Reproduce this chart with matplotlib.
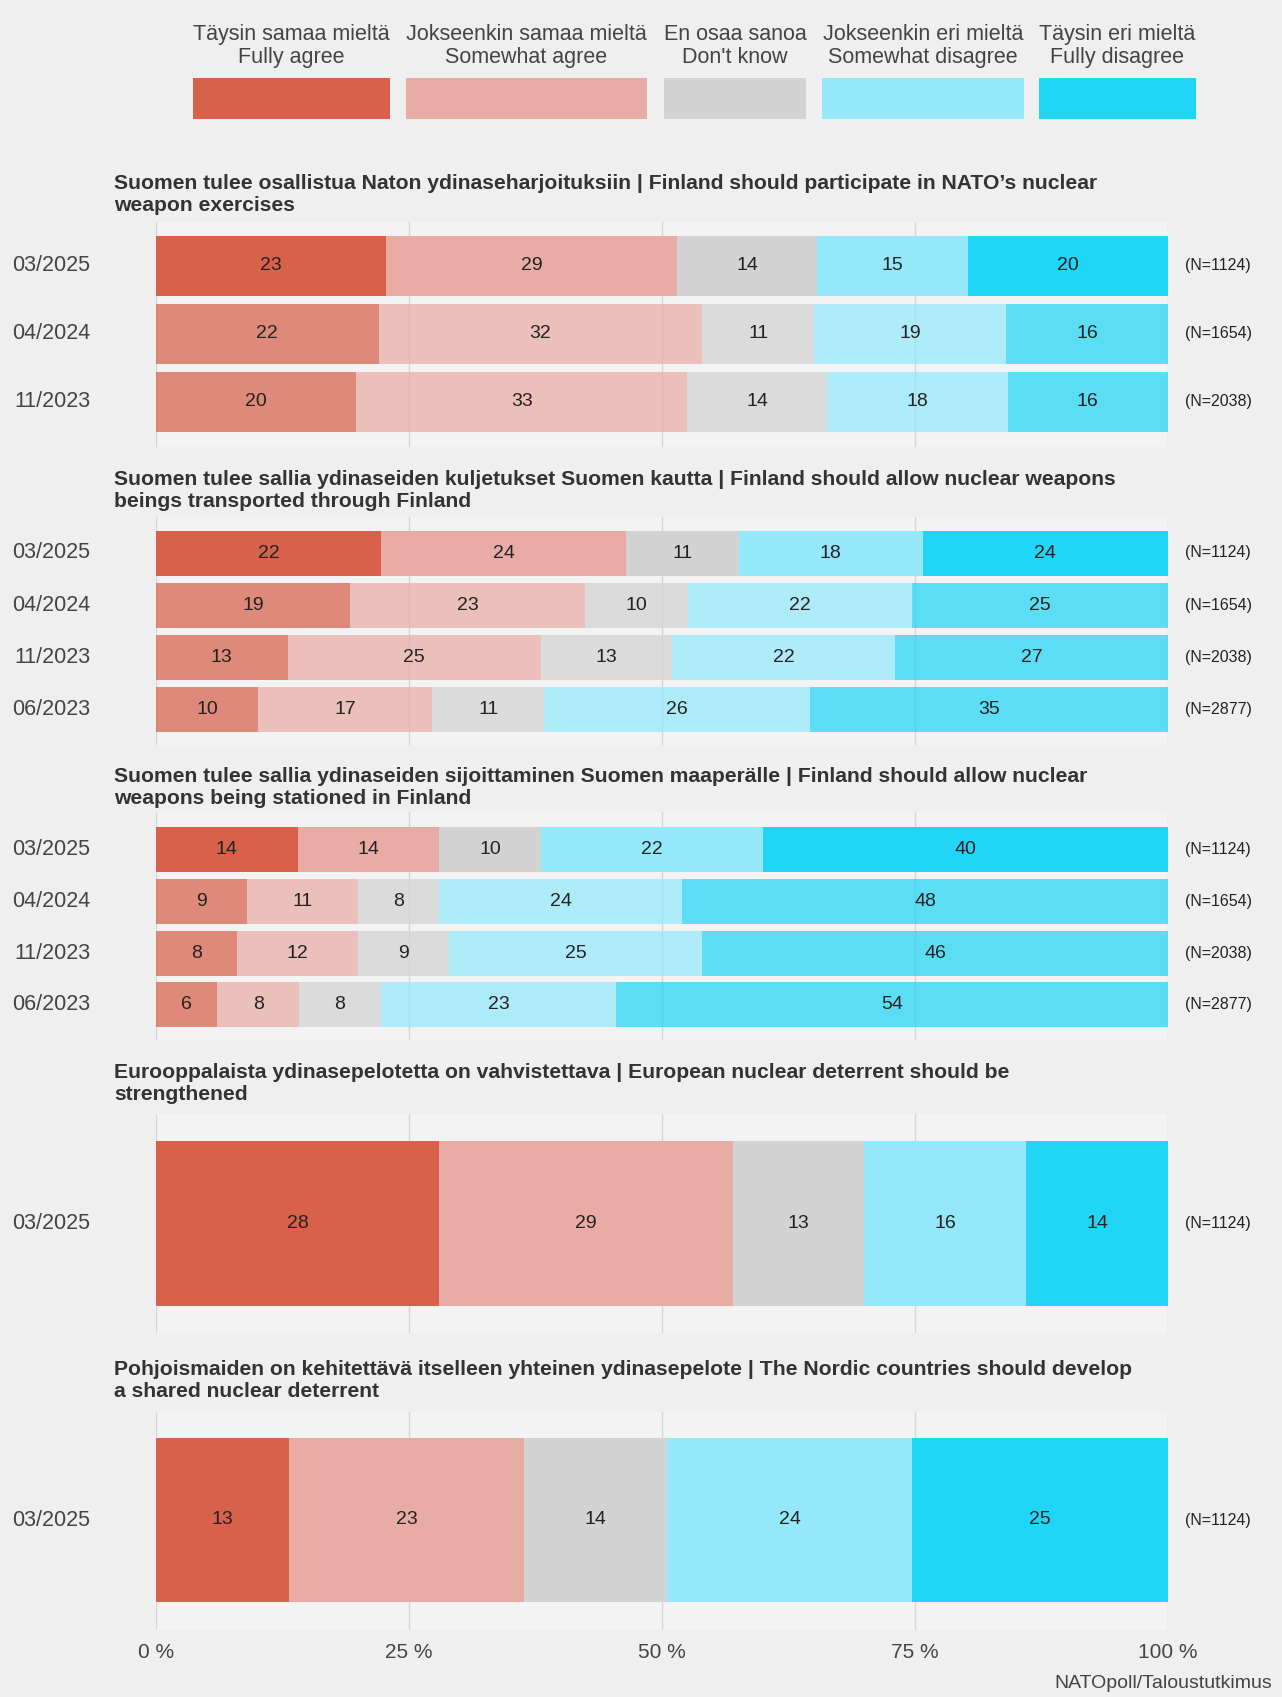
import numpy as np
import matplotlib.pyplot as plt

plt.rcParams['font.family'] = ['Liberation Sans', 'DejaVu Sans']

# Answer categories (Finnish / English)
categories = ['Täysin samaa mieltä\nFully agree',
              'Jokseenkin samaa mieltä\nSomewhat agree',
              'En osaa sanoa\nDon\'t know',
              'Jokseenkin eri mieltä\nSomewhat disagree',
              'Täysin eri mieltä\nFully disagree']
colors = ['#d8614c', '#e9aca4', '#d3d3d3', '#94e8fa', '#20d5f5']

titles = ['Suomen tulee osallistua Naton ydinaseharjoituksiin | Finland should participate in NATO\u2019s nuclear\nweapon exercises',
          'Suomen tulee sallia ydinaseiden kuljetukset Suomen kautta | Finland should allow nuclear weapons\nbeings transported through Finland',
          'Suomen tulee sallia ydinaseiden sijoittaminen Suomen maaperälle | Finland should allow nuclear\nweapons being stationed in Finland',
          'Eurooppalaista ydinasepelotetta on vahvistettava | European nuclear deterrent should be\nstrengthened',
          'Pohjoismaiden on kehitettävä itselleen yhteinen ydinasepelote | The Nordic countries should develop\na shared nuclear deterrent']

# survey rounds and sample sizes per panel
dates1 = ['03/2025', '04/2024', '11/2023']
dates2 = ['03/2025', '04/2024', '11/2023', '06/2023']
dates3 = ['03/2025', '04/2024', '11/2023', '06/2023']
dates4 = ['03/2025']
dates5 = ['03/2025']
n1 = [1124, 1654, 2038]
n2 = [1124, 1654, 2038, 2877]
n3 = [1124, 1654, 2038, 2877]
n4 = [1124]
n5 = [1124]

# percentages: rows = rounds, columns = categories
vals1 = [[23, 29, 14, 15, 20],
         [22, 32, 11, 19, 16],
         [20, 33, 14, 18, 16]]
vals2 = [[22, 24, 11, 18, 24],
         [19, 23, 10, 22, 25],
         [13, 25, 13, 22, 27],
         [10, 17, 11, 26, 35]]
vals3 = [[14, 14, 10, 22, 40],
         [9, 11, 8, 24, 48],
         [8, 12, 9, 25, 46],
         [6, 8, 8, 23, 54]]
vals4 = [[28, 29, 13, 16, 14]]
vals5 = [[13, 23, 14, 24, 25]]

W, H = 1282, 1697
fig = plt.figure(figsize=(W / 100, H / 100), dpi=100)
fig.patch.set_facecolor('#efefef')


def fy(y):
    return 1 - y / H


x0, x1 = 156, 1168


def panel(vals, dates, ns, title, title_y, top, bottom, first_c, pitch, bar_h, last=False):
    ax = fig.add_axes([x0 / W, fy(bottom), (x1 - x0) / W, (bottom - top) / H])
    ax.set_facecolor('#f3f3f3')
    nrows = len(dates)
    # y limits in row units from pixel layout
    y_top = -(first_c - top) / pitch
    y_bot = (bottom - first_c) / pitch
    ax.set_ylim(y_bot, y_top)
    ax.set_xlim(0, 100)
    for g in [0, 25, 50, 75, 100]:
        ax.axvline(g, color='#d6d6d6', lw=1, zorder=0)
    vals = np.array(vals, dtype=float)
    pct = vals / vals.sum(axis=1, keepdims=True) * 100
    for i in range(nrows):
        alpha = 1.0 if i == 0 else 0.72
        left = 0
        for j in range(5):
            ax.barh(i, pct[i, j], left=left, height=bar_h / pitch, color=colors[j],
                    alpha=alpha, lw=0, zorder=2)
            ax.text(left + pct[i, j] / 2, i, f'{int(vals[i, j])}', ha='center', va='center',
                    fontsize=14, color='#222222', zorder=3)
            left += pct[i, j]
        fig.text(90 / W, fy(first_c + i * pitch), dates[i], ha='right', va='center',
                 fontsize=15.5, color='#444444')
        fig.text(1185 / W, fy(first_c + i * pitch), f'(N={ns[i]})', ha='left', va='center',
                 fontsize=11.5, color='#222222')
    for s in ax.spines.values():
        s.set_visible(False)
    ax.set_yticks([])
    if last:
        ax.set_xticks([0, 25, 50, 75, 100])
        ax.set_xticklabels(['0 %', '25 %', '50 %', '75 %', '100 %'], fontsize=15, color='#444444')
        ax.tick_params(axis='x', length=0, pad=9)
    else:
        ax.set_xticks([])
    fig.text(114 / W, fy(title_y), title, ha='left', va='top', fontsize=15.2,
             fontweight='bold', color='#333333', linespacing=1.22)
    return ax


panel(vals1, dates1, n1, titles[0], 174, 222, 447, 265.5, 68, 60)
panel(vals2, dates2, n2, titles[1], 470, 517, 745, 553, 52.2, 45)
panel(vals3, dates3, n3, titles[2], 767, 812, 1040, 849.5, 51.8, 45)
panel(vals4, dates4, n4, titles[3], 1063, 1114, 1333, 1223.5, 219, 165)
panel(vals5, dates5, n5, titles[4], 1360, 1412, 1630, 1520, 218, 164, last=True)

# legend
leg_x = [(193, 390), (406, 647), (664, 806), (822, 1024), (1039, 1196)]
for (a, b), c, lab in zip(leg_x, colors, categories):
    fig.patches.append(plt.Rectangle((a / W, fy(119)), (b - a) / W, 41 / H,
                                     transform=fig.transFigure, color=c, lw=0))
    fig.text((a + b) / 2 / W, fy(46), lab, ha='center', va='center', fontsize=15.5,
             color='#444444', linespacing=1.15)

fig.text(1272 / W, fy(1684), 'NATOpoll/Taloustutkimus', ha='right', va='center',
         fontsize=14, color='#444444')

fig.savefig('out.png', dpi=100, facecolor=fig.get_facecolor())
